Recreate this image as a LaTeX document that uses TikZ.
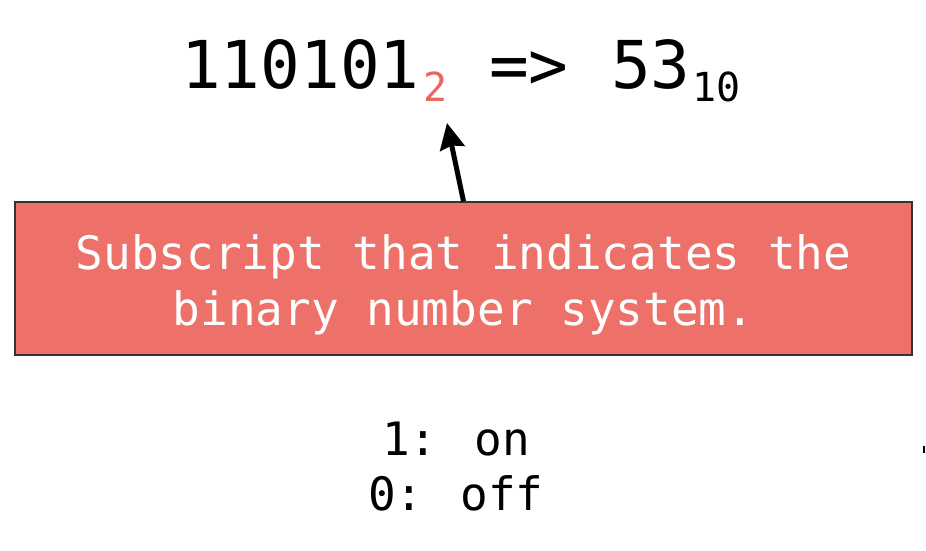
\documentclass[tikz,border=0pt]{standalone}
\usepackage{fontspec}
\setmainfont{DejaVu Sans Mono}
\usetikzlibrary{arrows.meta}
\definecolor{salmon}{HTML}{ED7168}
\definecolor{subred}{HTML}{E8685F}
\tikzset{
  big/.style={inner sep=0pt, anchor=base west, font=\fontsize{66}{66}\selectfont},
  small/.style={inner sep=0pt, anchor=base west, font=\fontsize{40}{40}\selectfont},
  notebox/.style={draw=black!80, line width=1.5pt, fill=salmon, minimum width=897pt, minimum height=153pt, inner sep=0pt},
  notetext/.style={text=white, align=center, inner sep=0pt, font=\fontsize{46}{56}\selectfont},
  legend/.style={inner sep=0pt, align=center, font=\fontsize{46}{55}\selectfont},
  pointer/.style={line width=5pt, -{Stealth[length=26pt,width=25pt,inset=3pt]}}
}
\begin{document}
\begin{tikzpicture}[x=1pt,y=-1pt]
\useasboundingbox[fill=white] (0,0) rectangle (926,550);
\node[big] (bin) at (181,88) {110101};
\node[small, text=subred] (sub2) at (423,101) {2};
\node[big] (conv) at (489,88) {=>};
\node[big] (dec) at (611,88) {53};
\node[small] (sub10) at (692,101) {10};
\node[notebox] (box) at (463.5,278.5) {};
\node[notetext] (note) at (463.5,285) {Subscript that indicates the\\binary number system.};
\coordinate (tip) at (447,123);
\draw[pointer] (box.north) -- (tip);
\node[legend] (bits) at (456,467) {1: on\\0: off};
\draw[line width=1.5pt] (924,446) -- (924,453);
\end{tikzpicture}
\end{document}
